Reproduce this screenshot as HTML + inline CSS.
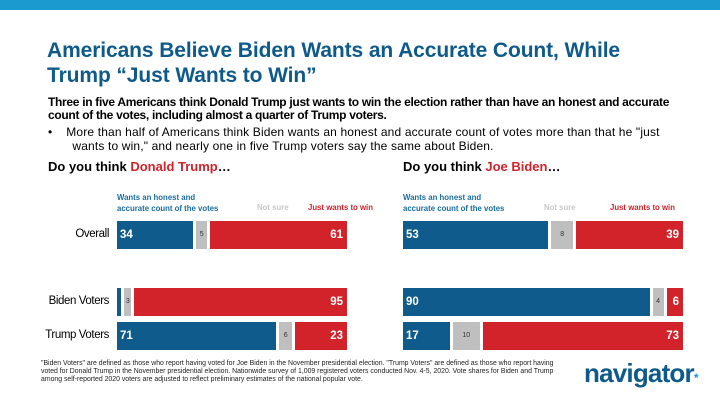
<!DOCTYPE html>
<html><head><meta charset="utf-8"><style>
body{margin:0;width:720px;height:405px;background:#fff;font-family:"Liberation Sans",sans-serif;position:relative;overflow:hidden}
.a{position:absolute;white-space:nowrap}
</style></head><body>
<div class="a" style="left:0;top:0;width:720px;height:10px;background:#1b9ad0"></div>
<div class="a" style="left:47px;top:38px;font-size:21px;font-weight:bold;color:#0e5a8a;line-height:25px;letter-spacing:-0.1px">Americans Believe Biden Wants an Accurate Count, While<br>Trump “Just Wants to Win”</div>
<div class="a" style="left:48px;top:96px;font-size:12px;font-weight:bold;line-height:13px;letter-spacing:-0.3px">Three in five Americans think Donald Trump just wants to win the election rather than have an honest and accurate<br>count of the votes, including almost a quarter of Trump voters.</div>
<div class="a" style="left:48px;top:125px;font-size:12px;line-height:14px;letter-spacing:0.15px">•&nbsp;&nbsp;&nbsp;&nbsp;More than half of Americans think Biden wants an honest and accurate count of votes more than that he "just<br>&nbsp;&nbsp;&nbsp;&nbsp;&nbsp;&nbsp;&nbsp;wants to win," and nearly one in five Trump voters say the same about Biden.</div>
<div class="a" style="left:48px;top:159px;font-size:13px;font-weight:bold">Do you think <span style="color:#d2232a">Donald Trump</span>…</div>
<div class="a" style="left:403px;top:159px;font-size:13px;font-weight:bold">Do you think <span style="color:#d2232a">Joe Biden</span>…</div>
<div id="charts"></div>
<div class="a" style="left:41px;top:360px;font-size:6.9px;line-height:8px;color:#222">"Biden Voters" are defined as those who report having voted for Joe Biden in the November presidential election. "Trump Voters" are defined as those who report having<br>voted for Donald Trump in the November presidential election. Nationwide survey of 1,009 registered voters conducted Nov. 4-5, 2020. Vote shares for Biden and Trump<br>among self-reported 2020 voters are adjusted to reflect preliminary estimates of the national popular vote.</div>
<div class="a" style="left:584px;top:358px;font-size:26px;font-weight:bold;color:#0e5a8a;letter-spacing:-0.8px">navigator<span style="color:#1b9ad0;font-size:12px">*</span></div>
<script>
const rows=["Overall","Biden Voters","Trump Voters"];
const trumpHonest=[34,2,71];
const trumpNotSure=[5,3,6];
const trumpWin=[61,95,23];
const bidenHonest=[53,90,17];
const bidenNotSure=[8,4,10];
const bidenWin=[39,6,73];
const rowY=[221,288,322];
const root=document.getElementById('charts');
function mk(css,txt){const d=document.createElement('div');d.className='a';d.style.cssText=css;if(txt!==undefined)d.textContent=txt;root.appendChild(d);return d;}
function chart(x0,w,H,N,W,key,nsX,winX){
  const gap=3,sc=(w-2*gap)/100,h=28;
  let e=mk(`left:${x0}px;top:192px;font-size:7.8px;font-weight:bold;color:#1a6e9e;line-height:11px`,'');e.innerHTML='Wants an honest and<br>accurate count of the votes';
  
  
  e=mk(`left:${nsX}px;top:203px;font-size:7.8px;font-weight:bold;color:#c8c8c8`,'Not sure');
  
  
  e=mk(`left:${winX}px;top:203px;font-size:7.8px;font-weight:bold;color:#d2232a`,'Just wants to win');
  
  
  rows.forEach((r,i)=>{
    const y=rowY[i];let x=x0;
    if(key=='trump'){e=mk(`right:${720-x0+8}px;top:${y+7}px;font-size:11.5px;letter-spacing:-0.4px`,r);
    
    }
    const segs=[[H[i],'#0f5c8c','#fff','honest'],[N[i],'#bfbfbf','#333','not-sure'],[W[i],'#d2232a','#fff','win']];
    segs.forEach((s,j)=>{
      const bw=s[0]*sc;
      const b=mk(`left:${x}px;top:${y}px;width:${bw}px;height:${h}px;background:${s[1]};font-size:${j==1?7:11.5}px;font-weight:${j==1?'normal':'bold'};color:${s[2]};line-height:${h}px;box-sizing:border-box;${j==2?'text-align:right;padding-right:4px':(j==1?'text-align:center':'padding-left:3px')}`,(key=='trump'&&i==1&&j==0)?'':String(s[0]));
      
      
      x+=bw+gap;
    });
  });
}
chart(117,230,trumpHonest,trumpNotSure,trumpWin,'trump',257,308);
chart(403,280,bidenHonest,bidenNotSure,bidenWin,'biden',544,610);
</script>
</body></html>
